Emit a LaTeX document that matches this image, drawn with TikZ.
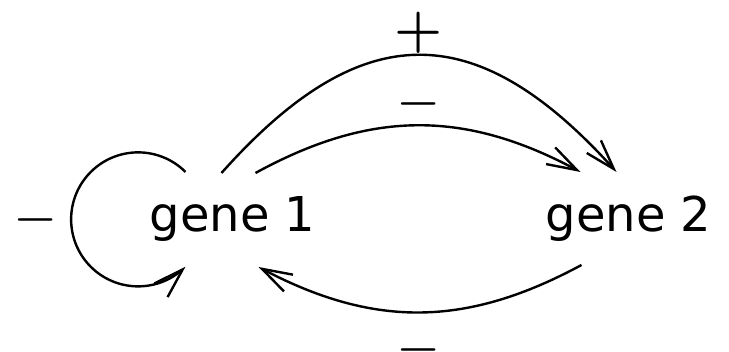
\documentclass[tikz,border=0pt]{standalone}
\usepackage{fontspec}
\newfontfamily\genefont{DejaVu Sans}
\usetikzlibrary{arrows.meta,bending,calc}
\tikzset{
  gene/.style={inner sep=0pt, text height=35pt, text depth=9pt,
    font=\genefont\fontsize{48}{58}\selectfont},
  sign/.style={inner sep=0pt, anchor=base, font=\bfseries\fontsize{46}{55}\selectfont},
  bigsign/.style={inner sep=0pt, anchor=base, font=\bfseries\fontsize{55}{66}\selectfont},
  link/.style={line width=2.4pt, -{Straight Barb[length=30pt,width=19pt]}},
}
\begin{document}
\begin{tikzpicture}[x=1pt,y=1pt]
  \useasboundingbox (0,0) rectangle (729,352);

  % the two genes
  \node[gene] (g1) at (232.5,133) {gene 1};
  \node[gene] (g2) at (628.5,133) {gene 2};

  % end points of the interactions on the gene boxes
  \coordinate (a1) at ($(g1.center)+(-11,46)$);
  \coordinate (a2) at ($(g2.center)+(-12,47)$);
  \coordinate (b1) at ($(g1.center)+(23,46)$);
  \coordinate (b2) at ($(g2.center)+(-48,47)$);
  \coordinate (c2) at ($(g2.center)+(-47,-46)$);
  \coordinate (c1) at ($(g1.center)+(26,-48)$);
  \coordinate (s1) at ($(g1.center)+(-47,47)$);

  % activation of gene 2 by gene 1
  \draw[link] (a1) .. controls ($(a1)+(140,157)$) and ($(a2)+(-140,157)$) .. (a2);
  % repression of gene 2 by gene 1
  \draw[link] (b1) .. controls ($(b1)+(115,63)$) and ($(b2)+(-115,63)$) .. (b2);
  % repression of gene 1 by gene 2
  \draw[link] (c2) .. controls ($(c2)+(-115,-62)$) and ($(c1)+(115,-62)$) .. (c1);
  % self-repression of gene 1
  \draw[link] (s1) arc[start angle=45, end angle=315, radius=67];

  % interaction signs (placed on their baselines)
  \node[bigsign] (pA) at (419,305) {+};
  \node[sign] (mB) at (419,236.3) {−};
  \node[sign] (mC) at (419,-9.7) {−};
  \node[sign] (mS) at (35.5,120.3) {−};
\end{tikzpicture}
\end{document}
